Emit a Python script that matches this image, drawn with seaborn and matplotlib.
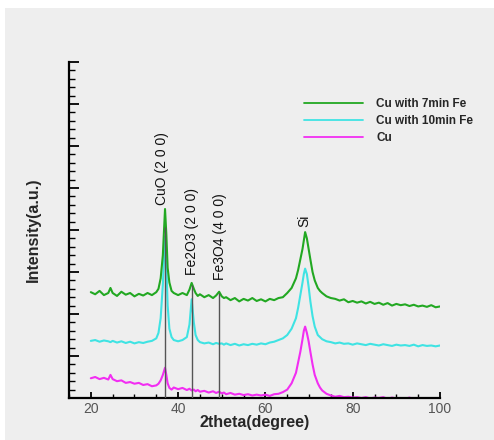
import numpy as np
import pandas as pd
import seaborn as sns
import matplotlib.pyplot as plt
from matplotlib.lines import Line2D
from matplotlib.patches import Rectangle
from matplotlib.ticker import MultipleLocator, NullFormatter

# 2theta positions (degrees)
two_theta = [
    20, 21, 22, 23, 24, 24.5, 25, 26, 27, 28,
    29, 30, 31, 32, 33, 34, 35, 35.5, 36, 36.5,
    37, 37.3, 37.6, 38, 38.5, 39, 40, 41, 42, 42.6,
    43.1, 43.6, 44, 44.5, 45, 46, 47, 48, 48.7, 49.4,
    50, 50.5, 51, 52, 53, 54, 55, 56, 57, 58,
    59, 60, 61, 62, 63, 64, 65, 66, 67, 67.5,
    68, 68.5, 68.8, 69.1, 69.5, 69.9, 70.3, 70.8, 71.3, 72,
    72.5, 73, 74, 75, 76, 77, 78, 79, 80, 81,
    82, 83, 84, 85, 86, 87, 88, 89, 90, 91,
    92, 93, 94, 95, 96, 97, 98, 99, 100,
]

cu_7min = [
    2.52, 2.47, 2.55, 2.45, 2.50, 2.62, 2.50, 2.43, 2.53, 2.46,
    2.50, 2.42, 2.48, 2.44, 2.50, 2.45, 2.52, 2.60, 2.85, 3.40,
    4.50, 3.90, 3.10, 2.75, 2.55, 2.50, 2.45, 2.50, 2.45, 2.58,
    2.74, 2.60, 2.50, 2.43, 2.47, 2.40, 2.45, 2.38, 2.44, 2.53,
    2.42, 2.38, 2.40, 2.33, 2.38, 2.30, 2.36, 2.32, 2.38, 2.31,
    2.35, 2.30, 2.36, 2.33, 2.38, 2.40, 2.50, 2.62, 2.85, 3.05,
    3.30, 3.55, 3.75, 3.95, 3.80, 3.55, 3.30, 3.00, 2.80, 2.62,
    2.55, 2.50, 2.42, 2.38, 2.36, 2.32, 2.35, 2.28, 2.31, 2.27,
    2.30, 2.25, 2.29, 2.24, 2.27, 2.22, 2.26, 2.20, 2.24, 2.21,
    2.23, 2.19, 2.22, 2.18, 2.20, 2.17, 2.21, 2.16, 2.18,
]

cu_10min = [
    1.36, 1.38, 1.34, 1.37, 1.35, 1.33, 1.36, 1.32, 1.35, 1.31,
    1.34, 1.30, 1.33, 1.31, 1.34, 1.36, 1.42, 1.55, 1.90, 2.70,
    3.85, 3.20, 2.20, 1.65, 1.45, 1.38, 1.35, 1.38, 1.45, 1.75,
    2.35, 1.80, 1.50, 1.38, 1.33, 1.30, 1.32, 1.28, 1.31, 1.29,
    1.30, 1.27, 1.30, 1.26, 1.29, 1.25, 1.28, 1.26, 1.29, 1.27,
    1.30, 1.28, 1.32, 1.34, 1.38, 1.42, 1.50, 1.65, 1.90, 2.15,
    2.45, 2.75, 2.95, 3.08, 2.95, 2.65, 2.30, 1.95, 1.70, 1.50,
    1.45, 1.40, 1.35, 1.33, 1.30, 1.32, 1.29, 1.30, 1.27, 1.30,
    1.28, 1.26, 1.29, 1.27, 1.25, 1.28, 1.26, 1.24, 1.27, 1.25,
    1.26, 1.24, 1.27, 1.23, 1.26, 1.24, 1.25, 1.23, 1.25,
]

cu_only = [
    0.47, 0.50, 0.45, 0.48, 0.44, 0.55, 0.45, 0.40, 0.42, 0.36,
    0.38, 0.34, 0.36, 0.31, 0.33, 0.28, 0.30, 0.34, 0.42, 0.55,
    0.72, 0.55, 0.35, 0.24, 0.20, 0.25, 0.21, 0.24, 0.19, 0.22,
    0.18, 0.20, 0.16, 0.19, 0.15, 0.17, 0.13, 0.16, 0.12, 0.15,
    0.11, 0.13, 0.09, 0.12, 0.08, 0.10, 0.07, 0.09, 0.06, 0.08,
    0.06, 0.08, 0.05, 0.09, 0.10, 0.14, 0.20, 0.35, 0.60, 0.85,
    1.10, 1.40, 1.60, 1.70, 1.55, 1.35, 1.10, 0.80, 0.55, 0.35,
    0.25, 0.18, 0.10, 0.06, 0.03, 0.05, 0.02, 0.03, 0.01, 0.02,
    0.00, 0.02, -0.01, 0.01, 0.00, 0.02, -0.02, 0.01, -0.01, 0.00,
    -0.02, 0.01, -0.03, -0.02, -0.04, -0.03, -0.04, -0.05, -0.04,
]

series_names = ["Cu with 7min Fe", "Cu with 10min Fe", "Cu"]
series_colors = ["#22a822", "#3fe3e3", "#f22ef2"]

# peak markers
peak_labels = ["CuO (2 0 0)", "Fe2O3 (2 0 0)", "Fe3O4 (4 0 0)", "Si"]
peak_label_x = [36.3, 43.1, 49.6, 68.9]
peak_label_y = [4.6, 2.93, 2.81, 4.07]
line_x = [37.05, 43.1, 49.4]
line_top = [4.07, 2.69, 2.5]

df = pd.DataFrame({
    "2theta": two_theta * 3,
    "intensity": cu_only + cu_10min + cu_7min,
    "sample": ["Cu"] * len(cu_only) + ["Cu with 10min Fe"] * len(cu_10min)
              + ["Cu with 7min Fe"] * len(cu_7min),
})

sns.set_theme(style="ticks")
plt.rcParams["font.family"] = ["Liberation Sans", "DejaVu Sans"]

bg = "#eeeeee"
fig = plt.figure(figsize=(4.94, 4.40), dpi=100, facecolor="white")
fig.add_artist(Rectangle((5 / 494, 0), 1, 1 - 8 / 440, transform=fig.transFigure,
                         facecolor=bg, edgecolor="none", zorder=0))
ax = fig.add_axes([69 / 494, 1 - 398 / 440, 371 / 494, 336 / 440])
ax.set_facecolor(bg)

palette = dict(zip(series_names, series_colors))
sns.lineplot(data=df, x="2theta", y="intensity", hue="sample", palette=palette,
             estimator=None, linewidth=1.5, legend=False, ax=ax)

ax.vlines(line_x, 0, line_top, color="#555555", linewidth=1.0, zorder=5)
for lab, lx, ly in zip(peak_labels, peak_label_x, peak_label_y):
    ax.text(lx, ly, lab, rotation=90, ha="center", va="bottom", fontsize=10,
            color="#111111")

ax.set_xlim(15, 100)
ax.set_ylim(0, 8)
ax.xaxis.set_major_locator(MultipleLocator(20))
ax.xaxis.set_minor_locator(MultipleLocator(5))
ax.yaxis.set_major_locator(MultipleLocator(1))
ax.yaxis.set_minor_locator(MultipleLocator(0.2))
ax.yaxis.set_major_formatter(NullFormatter())
ax.set_xticks([20, 40, 60, 80, 100])
ax.tick_params(axis="x", which="major", direction="in", length=4.5, width=1.3,
               color="black", labelsize=10, labelcolor="#555555", pad=3)
ax.tick_params(axis="x", which="minor", direction="in", length=3, width=1.0,
               color="black")
ax.tick_params(axis="y", which="major", direction="in", length=7, width=1.3,
               color="black")
ax.tick_params(axis="y", which="minor", direction="in", length=4.5, width=1.0,
               color="black")
sns.despine(ax=ax)
for side in ["left", "bottom"]:
    ax.spines[side].set_color("black")
    ax.spines[side].set_linewidth(1.6)

ax.set_xlabel("2theta(degree)", fontsize=11.5, fontweight="bold", labelpad=-1)
ax.set_ylabel("Intensity(a.u.)", fontsize=11.5, fontweight="bold", labelpad=17)

handles = [Line2D([], [], color=c, linewidth=1.3) for c in series_colors]
ax.legend(handles, series_names, loc="upper left", bbox_to_anchor=(0.605, 0.925),
          frameon=False, prop={"size": 8.5, "weight": "bold"}, handlelength=5.0,
          handletextpad=1.1, labelspacing=0.45)

fig.savefig("out.png", dpi=100, facecolor="white")
